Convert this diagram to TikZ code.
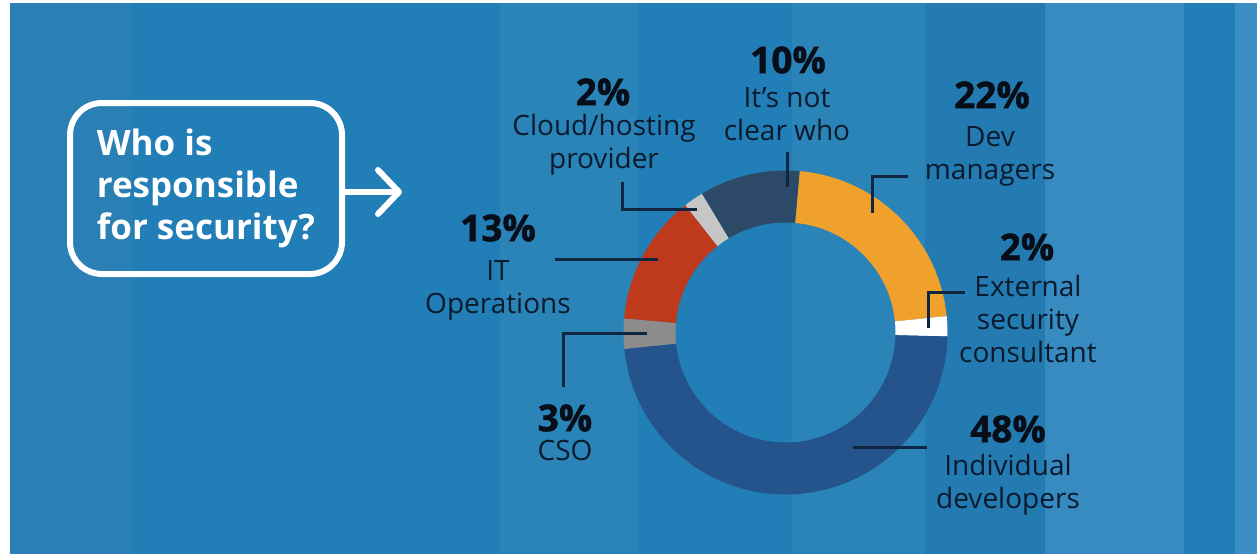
\documentclass[tikz,border=0pt]{standalone}
\usepackage{fontspec}
\setmainfont{Open Sans}
\newfontfamily\pctface{Open Sans}[BoldFeatures={FakeBold=1.3}]
\usetikzlibrary{calc}
\usetikzlibrary{arrows.meta}
\definecolor{bgbase}{HTML}{217EB6}
\definecolor{bgedge}{HTML}{2A80B4}
\definecolor{bglite}{HTML}{2A84B8}
\definecolor{bgdark}{HTML}{237BB2}
\definecolor{bgpale}{HTML}{388BC1}
\definecolor{bgrim}{HTML}{3D8EC2}
\definecolor{ink}{HTML}{0B1A2C}
\definecolor{pctink}{HTML}{080E18}
\definecolor{leadc}{HTML}{0E2640}
\definecolor{devmgr}{HTML}{F0A12C}
\definecolor{indiv}{HTML}{25538B}
\definecolor{cso}{HTML}{8C8C8C}
\definecolor{itops}{HTML}{BF3A1C}
\definecolor{cloud}{HTML}{C6C6C6}
\definecolor{unclear}{HTML}{2C4A68}
\newcommand{\pctfont}{\pctface\bfseries\fontsize{37}{40}\selectfont}
\newcommand{\lblfont}{\fontsize{28}{33}\selectfont}

\begin{document}
\begin{tikzpicture}[x=1pt,y=1pt,
    pct/.style={font=\pctfont, text=pctink, inner sep=0pt},
    lbl/.style={font=\lblfont, text=ink, align=center, inner sep=0pt},
    leader/.style={draw=leadc, line width=3pt},
    qbox/.style={draw=white, line width=6pt, rounded corners=32pt, text=white,
      font=\bfseries\fontsize{35}{42}\selectfont, align=left,
      minimum width=272pt, minimum height=171pt, inner sep=0pt}]
  \useasboundingbox (0,0) rectangle (1257,-554);
  \fill[white] (0,0) rectangle (1257,-554);
  \fill[bgbase] (10,-3) rectangle (1257,-554);
  \foreach \a/\b/\c in {10/132/bgedge, 500/638/bglite, 792/925/bglite,
      925/1045/bgdark, 1045/1184/bgpale, 1235/1257/bgrim}
    \fill[\c] (\a,-3) rectangle (\b,-554);

  % question box
  \node[qbox] (q) at (206,-188.5) {Who is\\responsible\\for security?};
  \coordinate (qtip) at (402,-192);
  \draw[white, line width=6pt, line cap=round,
    -{Straight Barb[length=21pt,width=44pt,round]}] (q.east |- qtip) -- (qtip);

  % donut
  \coordinate (O) at (785.5,-332.5);
  \foreach \a/\b/\c in {85/5.8/devmgr, 5.8/-1.4/white, -1.4/-174.2/indiv,
      -174.2/-185/cso, 175/128.2/itops, 128.2/121/cloud, 121/85/unclear}
    \fill[\c] ($(O)+(\a:162)$) arc[start angle=\a, end angle=\b, radius=162]
      -- ($(O)+(\b:110)$) arc[start angle=\b, end angle=\a, radius=110] -- cycle;

  % labels
  \node[pct] (p10) at (788,-60) {10\%};
  \node[lbl] (t10) at (787,-114) {It’s not\\clear who};
  \node[pct] (p2c) at (603,-92) {2\%};
  \node[lbl] (t2c) at (604,-145) {Cloud/hosting\\provider};
  \node[pct] (p13) at (498,-228) {13\%};
  \node[lbl] (t13) at (498,-290) {IT\\Operations};
  \node[pct] (p3) at (565,-418) {3\%};
  \node[lbl] (t3) at (565,-450) {CSO};
  \node[pct] (p22) at (992,-95) {22\%};
  \node[lbl] (t22) at (990,-156) {Dev\\managers};
  \node[pct] (p2e) at (1027,-247) {2\%};
  \node[lbl] (t2e) at (1028,-319) {External\\security\\consultant};
  \node[pct] (p48) at (1008,-429) {48\%};
  \node[lbl] (t48) at (1008,-485) {Individual\\developers};

  % leaders
  \coordinate (l10a) at (787,-152);  \coordinate (l10b) at (787,-187);
  \coordinate (l2ca) at (622,-182);  \coordinate (l2cb) at (697,-209);
  \coordinate (l13a) at (555,-259);  \coordinate (l13b) at (658,-259);
  \coordinate (l3a) at (563,-387);   \coordinate (l3b) at (647,-333);
  \coordinate (l22a) at (872,-213);  \coordinate (l22b) at (908,-176);
  \coordinate (l2ea) at (928,-328);  \coordinate (l2eb) at (965,-292);
  \coordinate (l48a) at (853,-447);  \coordinate (l48b) at (927,-447);
  \draw[leader] (l10a) -- (l10b);
  \draw[leader] (l2ca) |- (l2cb);
  \draw[leader] (l13a) -- (l13b);
  \draw[leader] (l3a) |- (l3b);
  \draw[leader] (l22a) |- (l22b);
  \draw[leader] (l2ea) |- (l2eb);
  \draw[leader] (l48a) -- (l48b);
\end{tikzpicture}
\end{document}
